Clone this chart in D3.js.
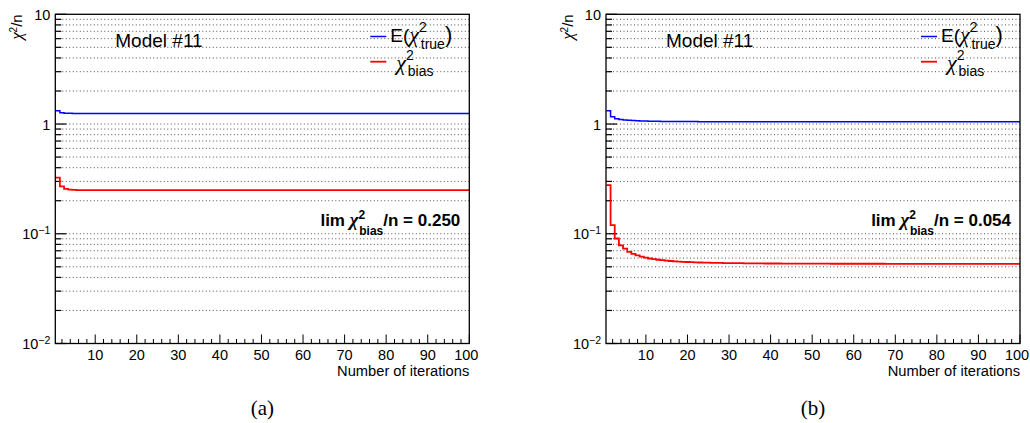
<!DOCTYPE html>
<html>
<head>
<meta charset="utf-8">
<script src="https://cdn.jsdelivr.net/npm/d3@7"></script>
<style>
  body { margin: 0; background: #fff; }
  svg { display: block; font-family: "Liberation Sans", Arial, sans-serif; }
  .chi { font-family: "Liberation Serif", "DejaVu Serif", serif; font-style: italic; }
</style>
</head>
<body>
<svg id="chart" width="1030" height="423"></svg>
<script>
// chi2/n per iteration (bins 1..100)
const iterations = d3.range(1, 101);

const trueA = [
  1.32, 1.27, 1.255, 1.252, 1.25, 1.25, 1.25, 1.25, 1.25, 1.25,
  1.25, 1.25, 1.25, 1.25, 1.25, 1.25, 1.25, 1.25, 1.25, 1.25,
  1.25, 1.25, 1.25, 1.25, 1.25, 1.25, 1.25, 1.25, 1.25, 1.25,
  1.25, 1.25, 1.25, 1.25, 1.25, 1.25, 1.25, 1.25, 1.25, 1.25,
  1.25, 1.25, 1.25, 1.25, 1.25, 1.25, 1.25, 1.25, 1.25, 1.25,
  1.25, 1.25, 1.25, 1.25, 1.25, 1.25, 1.25, 1.25, 1.25, 1.25,
  1.25, 1.25, 1.25, 1.25, 1.25, 1.25, 1.25, 1.25, 1.25, 1.25,
  1.25, 1.25, 1.25, 1.25, 1.25, 1.25, 1.25, 1.25, 1.25, 1.25,
  1.25, 1.25, 1.25, 1.25, 1.25, 1.25, 1.25, 1.25, 1.25, 1.25,
  1.25, 1.25, 1.25, 1.25, 1.25, 1.25, 1.25, 1.25, 1.25, 1.25
];
const biasA = [
  0.325, 0.270, 0.257, 0.253, 0.251, 0.250, 0.250, 0.250, 0.250, 0.250,
  0.250, 0.250, 0.250, 0.250, 0.250, 0.250, 0.250, 0.250, 0.250, 0.250,
  0.250, 0.250, 0.250, 0.250, 0.250, 0.250, 0.250, 0.250, 0.250, 0.250,
  0.250, 0.250, 0.250, 0.250, 0.250, 0.250, 0.250, 0.250, 0.250, 0.250,
  0.250, 0.250, 0.250, 0.250, 0.250, 0.250, 0.250, 0.250, 0.250, 0.250,
  0.250, 0.250, 0.250, 0.250, 0.250, 0.250, 0.250, 0.250, 0.250, 0.250,
  0.250, 0.250, 0.250, 0.250, 0.250, 0.250, 0.250, 0.250, 0.250, 0.250,
  0.250, 0.250, 0.250, 0.250, 0.250, 0.250, 0.250, 0.250, 0.250, 0.250,
  0.250, 0.250, 0.250, 0.250, 0.250, 0.250, 0.250, 0.250, 0.250, 0.250,
  0.250, 0.250, 0.250, 0.250, 0.250, 0.250, 0.250, 0.250, 0.250, 0.250
];
const trueB = [
  1.32, 1.165, 1.12, 1.10, 1.09, 1.083, 1.077, 1.072, 1.068, 1.065,
  1.062, 1.060, 1.058, 1.057, 1.056, 1.055, 1.054, 1.053, 1.053, 1.052,
  1.052, 1.052, 1.051, 1.051, 1.051, 1.051, 1.051, 1.050, 1.050, 1.050,
  1.050, 1.050, 1.050, 1.050, 1.050, 1.050, 1.050, 1.050, 1.050, 1.050,
  1.050, 1.050, 1.050, 1.050, 1.050, 1.050, 1.050, 1.050, 1.050, 1.050,
  1.050, 1.050, 1.050, 1.050, 1.050, 1.050, 1.050, 1.050, 1.050, 1.050,
  1.050, 1.050, 1.050, 1.050, 1.050, 1.050, 1.050, 1.050, 1.050, 1.050,
  1.050, 1.050, 1.050, 1.050, 1.050, 1.050, 1.050, 1.050, 1.050, 1.050,
  1.050, 1.050, 1.050, 1.050, 1.050, 1.050, 1.050, 1.050, 1.050, 1.050,
  1.050, 1.050, 1.050, 1.050, 1.050, 1.050, 1.050, 1.050, 1.050, 1.050
];
const biasB = [
  0.277, 0.120, 0.0905, 0.0785, 0.0733, 0.0685, 0.0655, 0.0635, 0.0618, 0.0605,
  0.0595, 0.0587, 0.0580, 0.0574, 0.0569, 0.0565, 0.0561, 0.0558, 0.0555, 0.0553,
  0.0551, 0.0549, 0.0547, 0.0546, 0.0545, 0.0544, 0.0543, 0.0542, 0.0541, 0.0540,
  0.0540, 0.0539, 0.0539, 0.0538, 0.0538, 0.0537, 0.0537, 0.0537, 0.0536, 0.0536,
  0.0536, 0.0536, 0.0535, 0.0535, 0.0535, 0.0535, 0.0535, 0.0534, 0.0534, 0.0534,
  0.0534, 0.0534, 0.0534, 0.0534, 0.0533, 0.0533, 0.0533, 0.0533, 0.0533, 0.0533,
  0.0533, 0.0533, 0.0533, 0.0533, 0.0533, 0.0533, 0.0533, 0.0532, 0.0532, 0.0532,
  0.0532, 0.0532, 0.0532, 0.0532, 0.0532, 0.0532, 0.0532, 0.0532, 0.0532, 0.0532,
  0.0532, 0.0532, 0.0532, 0.0532, 0.0532, 0.0532, 0.0532, 0.0532, 0.0532, 0.0532,
  0.0532, 0.0532, 0.0532, 0.0532, 0.0532, 0.0532, 0.0532, 0.0532, 0.0532, 0.0532
];

const limits = ["0.250", "0.054"];
const captions = ["(a)", "(b)"];
const yDecades = [0.01, 0.1, 1, 10];
const yDecadeLabels = [["10", "\u22122"], ["10", "\u22121"], ["1", ""], ["10", ""]];

const panels = [
  { left: 55.3, trueVals: trueA, biasVals: biasA, limit: limits[0], caption: captions[0] },
  { left: 606, trueVals: trueB, biasVals: biasB, limit: limits[1], caption: captions[1] }
];

const svg = d3.select("#chart");
const plotW = 414, plotTop = 14.3, plotBottom = 343.5;

panels.forEach((p, idx) => {
  const L = p.left, R = L + plotW;
  const x = d3.scaleLinear().domain([0.4, 100]).range([L, R]);
  const y = d3.scaleLog().domain([0.01, 10]).range([plotBottom, plotTop]);
  const g = svg.append("g");

  g.append("clipPath").attr("id", "clip" + idx)
    .append("rect").attr("x", L).attr("y", plotTop).attr("width", plotW).attr("height", plotBottom - plotTop);

  // dotted horizontal grid at every log tick
  g.append("g").selectAll("line")
    .data(y.ticks().filter(v => v < 10))
    .join("line")
    .attr("x1", L).attr("x2", R)
    .attr("y1", d => y(d)).attr("y2", d => y(d))
    .attr("stroke", "#222")
    .attr("stroke-width", 0.8)
    .attr("stroke-dasharray", "1,2.5");

  // y ticks (inside)
  g.append("g").selectAll("line")
    .data(y.ticks())
    .join("line")
    .attr("x1", L).attr("y1", d => y(d)).attr("y2", d => y(d))
    .attr("x2", d => yDecades.some(v => Math.abs(v - d) < 1e-9) ? L + 11 : L + 6)
    .attr("stroke", "#000").attr("stroke-width", 1.2);

  // x ticks (inside, up from bottom)
  const xMinor = x.ticks(50);
  g.append("g").selectAll("line")
    .data(xMinor)
    .join("line")
    .attr("x1", d => x(d)).attr("x2", d => x(d))
    .attr("y1", plotBottom)
    .attr("y2", d => d % 10 === 0 ? plotBottom - 9 : plotBottom - 4.5)
    .attr("stroke", "#000").attr("stroke-width", 1);

  // histograms
  const stepLine = d3.line()
    .x(d => x(d[0])).y(d => y(d[1]))
    .curve(d3.curveStepAfter);
  const toSteps = vals => {
    const pts = iterations.map((it, i) => [it - 0.5, vals[i]]);
    pts.push([100.5, vals[vals.length - 1]]);
    return pts;
  };
  g.append("path").datum(toSteps(p.trueVals))
    .attr("d", stepLine)
    .attr("clip-path", `url(#clip${idx})`)
    .attr("fill", "none").attr("stroke", "#0000ff").attr("stroke-width", 1.5);
  g.append("path").datum(toSteps(p.biasVals))
    .attr("d", stepLine)
    .attr("clip-path", `url(#clip${idx})`)
    .attr("fill", "none").attr("stroke", "#ff0000").attr("stroke-width", 1.8);

  // frame
  g.append("rect")
    .attr("x", L).attr("y", plotTop).attr("width", plotW).attr("height", plotBottom - plotTop)
    .attr("fill", "none").attr("stroke", "#000").attr("stroke-width", 1.3);

  // y tick labels
  yDecades.forEach((v, i) => {
    const [base, sup] = yDecadeLabels[i];
    const t = g.append("text")
      .attr("x", L - 5).attr("y", y(v) + 5.5)
      .attr("text-anchor", "end")
      .attr("font-size", 14.5).attr("fill", "#000");
    t.append("tspan").text(base);
    if (sup) t.append("tspan").attr("dy", -5).attr("font-size", 10.5).text(sup);
  });

  // x tick labels
  g.append("g").selectAll("text")
    .data(x.ticks(10))
    .join("text")
    .attr("x", d => d === 100 ? x(d) - 3 : x(d)).attr("y", 359.5)
    .attr("text-anchor", "middle")
    .attr("font-size", 14.5)
    .text(d => d);

  g.append("text")
    .attr("x", R).attr("y", 375.5)
    .attr("text-anchor", "end")
    .attr("font-size", 14.7)
    .text("Number of iterations");

  // y title
  const yt = g.append("text")
    .attr("transform", `translate(${L - 33},${plotTop}) rotate(-90)`)
    .attr("text-anchor", "end")
    .attr("font-size", 15);
  yt.append("tspan").attr("class", "chi").attr("font-size", 17).text("\u03c7");
  yt.append("tspan").attr("dy", -5).attr("font-size", 10).text("2");
  yt.append("tspan").attr("dy", 5).text("/n");

  // model label
  g.append("text")
    .attr("x", L + 60).attr("y", 46.7)
    .attr("font-size", 19)
    .text("Model #11");

  // legend
  g.append("line")
    .attr("x1", L + 315).attr("x2", L + 331).attr("y1", 36.5).attr("y2", 36.5)
    .attr("stroke", "#0000ff").attr("stroke-width", 1.5);
  const l1 = g.append("text").attr("x", L + 335).attr("y", 41.7).attr("font-size", 19);
  l1.append("tspan").text("E(");
  l1.append("tspan").attr("class", "chi").attr("font-size", 22).text("\u03c7");
  l1.append("tspan").attr("dy", -10).attr("font-size", 14).text("2");
  l1.append("tspan").attr("dx", -6).attr("dy", 17).attr("font-size", 14).text("true");
  l1.append("tspan").attr("dy", -7).attr("font-size", 22).text(")");

  g.append("line")
    .attr("x1", L + 315).attr("x2", L + 331).attr("y1", 61.7).attr("y2", 61.7)
    .attr("stroke", "#ff0000").attr("stroke-width", 1.8);
  const l2 = g.append("text").attr("x", L + 341).attr("y", 70).attr("font-size", 19);
  l2.append("tspan").attr("class", "chi").attr("font-size", 22).text("\u03c7");
  l2.append("tspan").attr("dy", -10).attr("font-size", 14).text("2");
  l2.append("tspan").attr("dx", -6).attr("dy", 16).attr("font-size", 14).text("bias");

  // limit annotation
  const lim = g.append("text")
    .attr("x", L + 405).attr("y", 226)
    .attr("text-anchor", "end")
    .attr("font-size", 17).attr("font-weight", "bold");
  lim.append("tspan").text("lim ");
  lim.append("tspan").attr("class", "chi").attr("font-size", 19).text("\u03c7");
  lim.append("tspan").attr("dy", -7).attr("font-size", 12).text("2");
  lim.append("tspan").attr("dx", -6).attr("dy", 16).attr("font-size", 12).text("bias");
  lim.append("tspan").attr("dy", -9).text("/n = " + p.limit);

  // caption
  g.append("text")
    .attr("x", L + plotW / 2).attr("y", 415)
    .attr("text-anchor", "middle")
    .attr("font-family", "'Liberation Serif', 'DejaVu Serif', serif")
    .attr("font-size", 21)
    .text(p.caption);
});
</script>
</body>
</html>
